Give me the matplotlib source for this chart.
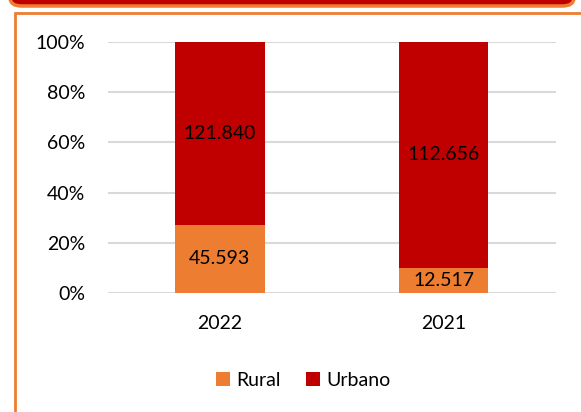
import matplotlib.pyplot as plt
import numpy as np
from matplotlib.patches import FancyBboxPatch, Rectangle

years = ['2022', '2021']
rural = [45593, 12517]
urbano = [121840, 112656]

RED = '#C00000'
ORANGE = '#ED7D31'
FS = 14


def fmt(v):
    return '{:,}'.format(v).replace(',', '.')


plt.rcParams['font.family'] = ['Lato', 'DejaVu Sans']
plt.rcParams['font.size'] = FS

fig = plt.figure(figsize=(5.81, 4.12), dpi=100)

# header bar and orange frame
fig.patches.append(FancyBboxPatch((10 / 581, 1 - 6 / 412), 564 / 581, 40 / 412,
                                  boxstyle='round,pad=0,rounding_size=0.02',
                                  transform=fig.transFigure, facecolor=RED,
                                  edgecolor=ORANGE, linewidth=2.5))
fig.patches.append(Rectangle((14.5 / 581, -0.1), 1.2, 1 - 13 / 412 + 0.1,
                             transform=fig.transFigure, facecolor='none',
                             edgecolor=ORANGE, linewidth=2))

ax = fig.add_axes([108 / 581, 1 - 293 / 412, 447.5 / 581, 251 / 412])

total = np.array(rural) + np.array(urbano)
p_rural = np.array(rural) / total
p_urbano = np.array(urbano) / total
x = np.arange(len(years))
w = 0.4

ax.bar(x, p_rural, w, color=ORANGE, label='Rural', zorder=3)
ax.bar(x, p_urbano, w, bottom=p_rural, color=RED, label='Urbano', zorder=3)

for i in range(len(years)):
    ax.text(x[i], p_rural[i] / 2, fmt(rural[i]), ha='center', va='center',
            fontsize=FS, color='black', zorder=4)
    ax.text(x[i], p_rural[i] + p_urbano[i] / 2, fmt(urbano[i]), ha='center',
            va='center', fontsize=FS, color='black', zorder=4)

ax.set_xlim(-0.5, 1.5)
ax.set_ylim(0, 1)
ax.set_yticks(np.arange(0, 1.01, 0.2))
ax.set_yticklabels(['{:.0f}%'.format(t * 100) for t in np.arange(0, 1.01, 0.2)])
ax.set_xticks(x)
ax.set_xticklabels(years)
ax.grid(axis='y', color='#D9D9D9', linewidth=1.5, zorder=0)
ax.tick_params(length=0, labelsize=FS)
ax.tick_params(axis='y', pad=16.5)
ax.tick_params(axis='x', pad=16)
for s in ax.spines.values():
    s.set_visible(False)

fig.legend(loc='center', bbox_to_anchor=(303 / 581, 1 - 380 / 412), ncol=2,
           frameon=False, handlelength=0.75, handleheight=0.75, handletextpad=0.3,
           columnspacing=1.3, fontsize=FS)

fig.savefig('out.png', dpi=100)
